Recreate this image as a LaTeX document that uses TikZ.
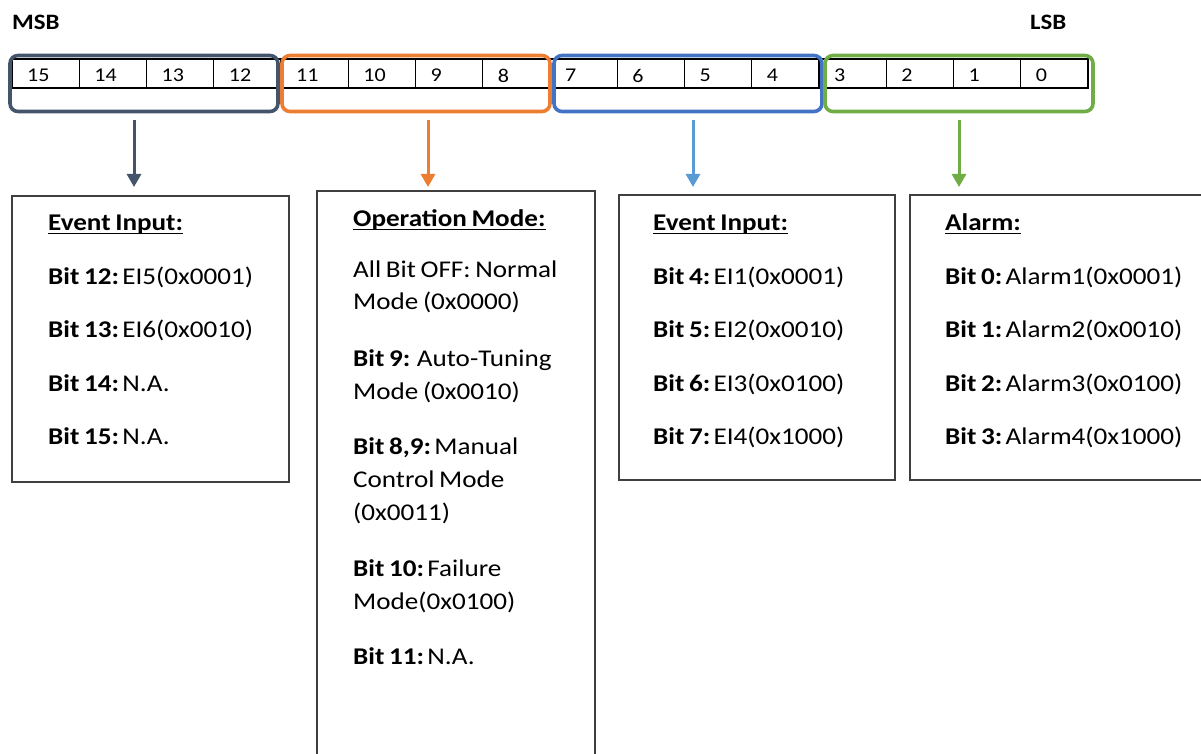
\documentclass[tikz,border=0pt]{standalone}
\usepackage{fontspec}
\setmainfont{Carlito}[FakeStretch=1.13,WordSpace=0.75]
\usetikzlibrary{arrows.meta}
\definecolor{gslate}{HTML}{44546A}
\definecolor{gorange}{HTML}{ED7D31}
\definecolor{gblue}{HTML}{4472C4}
\definecolor{glblue}{HTML}{5B9BD5}
\definecolor{ggreen}{HTML}{70AD47}
\definecolor{framegray}{HTML}{3F3F3F}
% bold bit label followed by a narrow gap
\newcommand\bitlbl[1]{\textbf{#1}\hspace{0.14em}}

\begin{document}
\begin{tikzpicture}[x=1pt,y=-1pt,
  cell/.style={draw=black,line width=1.2pt,minimum width=67.25pt,minimum height=29pt,
    inner sep=0pt,outer sep=0pt,anchor=north west},
  celltxt/.style={font=\fontsize{19.5}{24}\selectfont,anchor=west,inner sep=0pt},
  group/.style={draw=#1,line width=3.6pt,rounded corners=8pt,minimum width=268pt,
    minimum height=56pt,inner sep=0pt,outer sep=0pt,anchor=north west},
  link/.style={draw=#1,line width=3pt,-{Triangle[width=14pt,length=13pt]}},
  panel/.style={draw=framegray,line width=1.4pt,inner sep=0pt,outer sep=0pt,anchor=north west},
  head/.style={font=\fontsize{24}{30}\selectfont\bfseries,anchor=base west,inner sep=0pt},
  body/.style={font=\fontsize{24}{30}\selectfont,anchor=base west,inner sep=0pt},
  uline/.style={draw=black,line width=1.5pt},
  ]
\useasboundingbox (0,0) rectangle (1201,754);
\clip (0,0) rectangle (1201,754);

% MSB / LSB captions
\node[font=\fontsize{22}{26}\selectfont\bfseries,anchor=west,inner sep=0pt] (msb) at (12,22) {MSB};
\node[font=\fontsize{22}{26}\selectfont\bfseries,anchor=west,inner sep=0pt] (lsb) at (1030,22) {LSB};

% the sixteen bit cells, bit 15 on the left
\foreach \k in {0,...,15} {
  \pgfmathtruncatemacro\b{15-\k}
  \node[cell] (c\b) at ({12+67.25*\k},59) {};
  \node[celltxt] (n\b) at ([xshift=15pt,yshift=-2pt]c\b.west) {\b};
}

% nibble groups
\node[group=gslate]  (g1) at (10,55.5) {};
\node[group=gorange] (g2) at (282,55.5) {};
\node[group=gblue]   (g3) at (554,55.5) {};
\node[group=ggreen]  (g4) at (825,55.5) {};

% description panels
\node[panel,minimum width=277pt,minimum height=286pt] (b1) at (12,196) {};
\node[panel,minimum width=278pt,minimum height=600pt] (b2) at (317,191) {};
\node[panel,minimum width=276pt,minimum height=285pt] (b3) at (619,195) {};
\node[panel,minimum width=300pt,minimum height=285pt] (b4) at (910,195) {};

% arrow columns
\coordinate (a1) at (134,0);
\coordinate (a2) at (428,0);
\coordinate (a3) at (693,0);
\coordinate (a4) at (959,0);
\draw[link=gslate,  shorten <=8.5pt,shorten >=9pt] (g1.south -| a1) -- (b1.north -| a1);
\draw[link=gorange, shorten <=8.5pt,shorten >=4pt] (g2.south -| a2) -- (b2.north -| a2);
\draw[link=glblue,  shorten <=8.5pt,shorten >=8pt] (g3.south -| a3) -- (b3.north -| a3);
\draw[link=ggreen,  shorten <=8.5pt,shorten >=8pt] (g4.south -| a4) -- (b4.north -| a4);

% panel 1: bits 12-15
\node[head] (h1) at (48,230) {Event Input:};
\draw[uline] ([yshift=-3.5pt]h1.base west) -- ([yshift=-3.5pt]h1.base east);
\node[body] (t1a) at (48,284)   {\bitlbl{Bit 12:}EI5(0x0001)};
\node[body] (t1b) at (48,337.5) {\bitlbl{Bit 13:}EI6(0x0010)};
\node[body] (t1c) at (48,391)   {\bitlbl{Bit 14:}N.A.};
\node[body] (t1d) at (48,444.5) {\bitlbl{Bit 15:}N.A.};

% panel 2: bits 8-11
\node[head] (h2) at (353,226) {Operation Mode:};
\draw[uline] ([yshift=-3.5pt]h2.base west) -- ([yshift=-3.5pt]h2.base east);
\node[body] (t2a) at (353,277) {All Bit OFF: Normal};
\node[body] (t2b) at (353,309) {Mode (0x0000)};
\node[body] (t2c) at (353,366) {\textbf{Bit 9:} Auto-Tuning};
\node[body] (t2d) at (353,399) {Mode (0x0010)};
\node[body] (t2e) at (353,454) {\bitlbl{Bit 8,9:}Manual};
\node[body] (t2f) at (353,487) {Control Mode};
\node[body] (t2g) at (353,520) {(0x0011)};
\node[body] (t2h) at (353,576) {\bitlbl{Bit 10:}Failure};
\node[body] (t2i) at (353,609) {Mode(0x0100)};
\node[body] (t2j) at (353,664) {\bitlbl{Bit 11:}N.A.};

% panel 3: bits 4-7
\node[head] (h3) at (653,230) {Event Input:};
\draw[uline] ([yshift=-3.5pt]h3.base west) -- ([yshift=-3.5pt]h3.base east);
\node[body] (t3a) at (653,284)   {\bitlbl{Bit 4:}EI1(0x0001)};
\node[body] (t3b) at (653,337.5) {\bitlbl{Bit 5:}EI2(0x0010)};
\node[body] (t3c) at (653,391)   {\bitlbl{Bit 6:}EI3(0x0100)};
\node[body] (t3d) at (653,444.5) {\bitlbl{Bit 7:}EI4(0x1000)};

% panel 4: bits 0-3
\node[head] (h4) at (945,230) {Alarm:};
\draw[uline] ([yshift=-3.5pt]h4.base west) -- ([yshift=-3.5pt]h4.base east);
\node[body] (t4a) at (945,284)   {\bitlbl{Bit 0:}Alarm1(0x0001)};
\node[body] (t4b) at (945,337.5) {\bitlbl{Bit 1:}Alarm2(0x0010)};
\node[body] (t4c) at (945,391)   {\bitlbl{Bit 2:}Alarm3(0x0100)};
\node[body] (t4d) at (945,444.5) {\bitlbl{Bit 3:}Alarm4(0x1000)};
\end{tikzpicture}
\end{document}
